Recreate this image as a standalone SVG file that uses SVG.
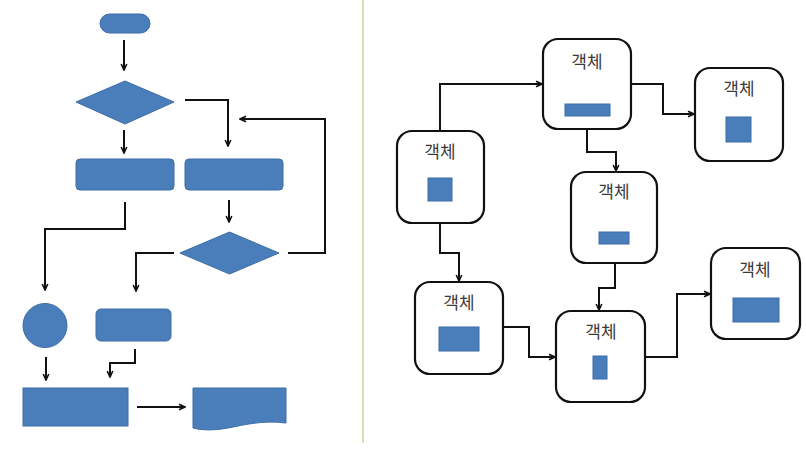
<svg xmlns="http://www.w3.org/2000/svg" width="806" height="452" viewBox="0 0 806 452">
<defs>
<style>
.s{fill:#4a7ebb;stroke:#3d6da6;stroke-width:1}
.c{fill:none;stroke:#111;stroke-width:2;stroke-linejoin:miter}
.o{fill:#fff;stroke:#111;stroke-width:2.2}
.t{font-family:"Noto Sans CJK KR","Noto Sans",sans-serif;font-size:17px;fill:#3a3a3a;text-anchor:middle}
</style>
<marker id="a" viewBox="0 0 10 10" refX="9" refY="5" markerWidth="8" markerHeight="8" orient="auto" markerUnits="userSpaceOnUse">
<path d="M1.5,1.5 L9,5 L1.5,8.5" fill="none" stroke="#111" stroke-width="2"/>
</marker>
</defs>
<rect width="806" height="452" fill="#fff"/>
<line x1="363" y1="0" x2="363" y2="443" stroke="#d2e4b6" stroke-width="2"/>

<g id="flow-start"><rect class="s" x="100" y="14" width="50" height="19" rx="9.5"/></g>
<g id="flow-decision1"><polygon class="s" points="76,102 125,81 174,102 125,124"/></g>
<g id="flow-process1"><rect class="s" x="76" y="159" width="98" height="31" rx="4"/></g>
<g id="flow-process2"><rect class="s" x="185" y="159" width="98" height="31" rx="4"/></g>
<g id="flow-decision2"><polygon class="s" points="180,253 229.5,232 279,253 229.5,274"/></g>
<g id="flow-circle"><circle class="s" cx="45" cy="325.5" r="22"/></g>
<g id="flow-process3"><rect class="s" x="96" y="309" width="75" height="32" rx="5"/></g>
<g id="flow-process4"><rect class="s" x="23" y="388" width="105" height="38"/></g>
<g id="flow-document"><path class="s" d="M193,388 H286 V423 C262,420 244,425 228,428 C212,431 200,430 193,428 Z"/></g>

<g id="obj-A"><rect class="o" x="543" y="39" width="88" height="90" rx="15"/><text class="t" x="587" y="68">객체</text><rect class="s" x="565" y="104" width="45" height="12"/></g>
<g id="obj-B"><rect class="o" x="695" y="68" width="88" height="93" rx="15"/><text class="t" x="739" y="95">객체</text><rect class="s" x="726" y="117" width="25" height="25"/></g>
<g id="obj-C"><rect class="o" x="397" y="131" width="87" height="92" rx="15"/><text class="t" x="440" y="158">객체</text><rect class="s" x="428" y="178" width="24" height="23"/></g>
<g id="obj-D"><rect class="o" x="571" y="172" width="86" height="91" rx="15"/><text class="t" x="614" y="198">객체</text><rect class="s" x="599" y="232" width="30" height="12"/></g>
<g id="obj-E"><rect class="o" x="415" y="282" width="88" height="92" rx="15"/><text class="t" x="459" y="309">객체</text><rect class="s" x="439" y="327" width="40" height="24"/></g>
<g id="obj-F"><rect class="o" x="556" y="311" width="89" height="91" rx="15"/><text class="t" x="601" y="338">객체</text><rect class="s" x="593" y="356" width="14" height="23"/></g>
<g id="obj-G"><rect class="o" x="711" y="248" width="89" height="91" rx="15"/><text class="t" x="755" y="276">객체</text><rect class="s" x="733" y="298" width="46" height="24"/></g>

<g id="connectors">
<path class="c" marker-end="url(#a)" d="M124,40 V70"/>
<path class="c" marker-end="url(#a)" d="M185,100 H228 V146"/>
<path class="c" marker-end="url(#a)" d="M124,130 V153"/>
<path class="c" marker-end="url(#a)" d="M288,253 H325 V119 H240"/>
<path class="c" marker-end="url(#a)" d="M125,202 V229 H45 V290"/>
<path class="c" marker-end="url(#a)" d="M229,200 V222"/>
<path class="c" marker-end="url(#a)" d="M174,253 H136 V291"/>
<path class="c" marker-end="url(#a)" d="M46,357 V380"/>
<path class="c" marker-end="url(#a)" d="M135,349 V363 H110 V377"/>
<path class="c" marker-end="url(#a)" d="M137,407 H185"/>

<path class="c" marker-end="url(#a)" d="M440,131 V84 H542"/>
<path class="c" marker-end="url(#a)" d="M631,84 H663 V114 H694"/>
<path class="c" marker-end="url(#a)" d="M587,129 V152 H616 V171"/>
<path class="c" marker-end="url(#a)" d="M440,223 V253 H459 V281"/>
<path class="c" marker-end="url(#a)" d="M615,263 V288 H599 V310"/>
<path class="c" marker-end="url(#a)" d="M503,327 H529 V357 H555"/>
<path class="c" marker-end="url(#a)" d="M645,357 H677 V294 H710"/>
</g>
</svg>
